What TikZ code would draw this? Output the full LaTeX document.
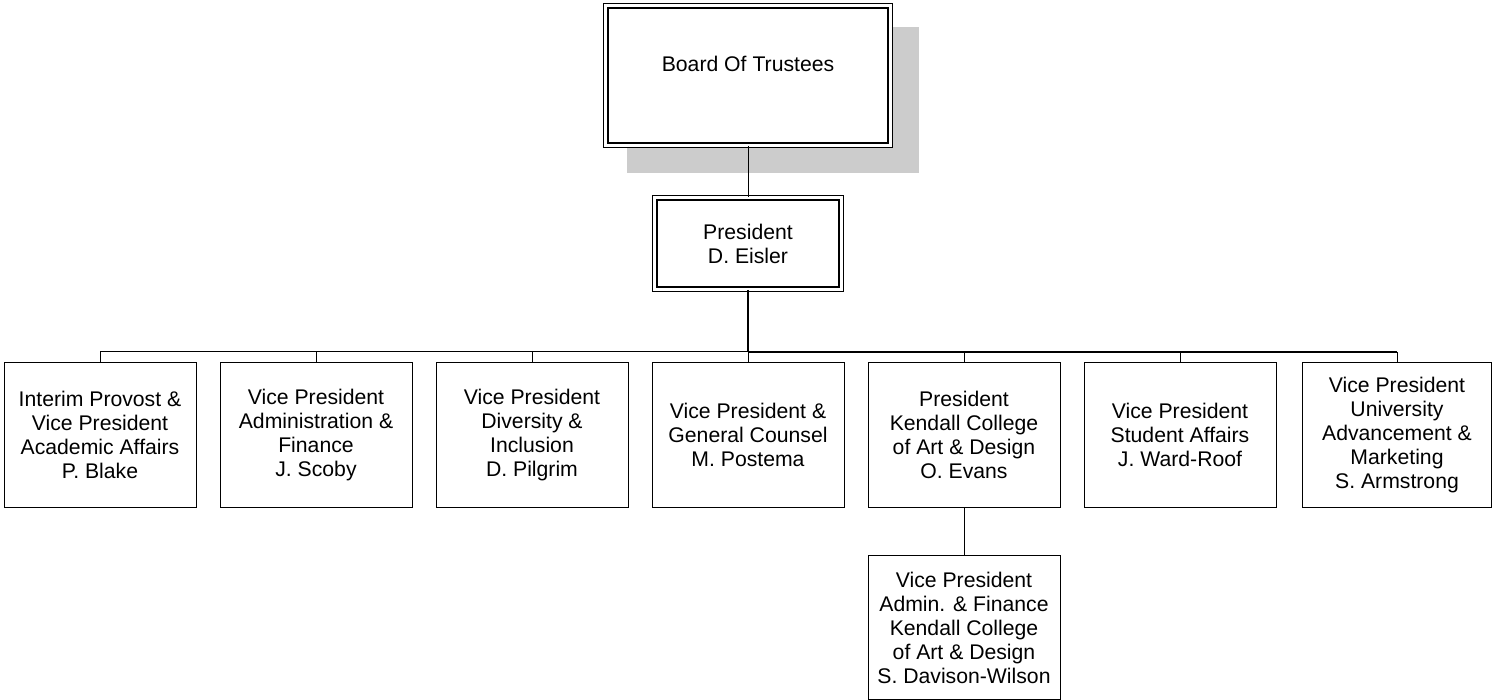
\documentclass[tikz,border=0pt]{standalone}
\usepackage{fontspec}
\setmainfont{Liberation Sans}
\tikzset{
  orgbox/.style={draw, line width=1pt, minimum width=192pt, minimum height=144pt, align=center, inner sep=2pt, font=\fontsize{21.2}{24}\selectfont},
  dblbox/.style={draw, line width=1.3pt, double, double distance=3pt, align=center, inner sep=2pt, font=\fontsize{21.2}{24}\selectfont},
  conn/.style={line width=1pt},
  heavy/.style={line width=2pt},
}
\begin{document}
\begin{tikzpicture}[x=1pt,y=-1pt]
\useasboundingbox (0,0) rectangle (1492,700);
\fill[fill={rgb,255:red,204;green,204;blue,204}] (627,27) rectangle (919,173);
\node[dblbox, fill=white, minimum width=284.4pt, minimum height=139.4pt] (board) at (748,75.5) {Board Of Trustees\\ \mbox{}};
\node[dblbox, minimum width=186.4pt, minimum height=91.4pt] (pres) at (748,243.5) {President\\D. Eisler};
\coordinate (bus) at (748,352);
\node[orgbox] (c1) at (100,435) {Interim Provost \&\\Vice President\\Academic Affairs\\P. Blake};
\node[orgbox] (c2) at (316,435) {Vice President\\Administration \&\\Finance\\J. Scoby};
\node[orgbox] (c3) at (532,435) {Vice President\\Diversity \&\\Inclusion\\D. Pilgrim};
\node[orgbox] (c4) at (748,435) {Vice President \&\\General Counsel\\M. Postema};
\node[orgbox] (c5) at (964,435) {President\\Kendall College\\of Art \& Design\\O. Evans};
\node[orgbox] (c6) at (1180,435) {Vice President\\Student Affairs\\J. Ward-Roof};
\node[orgbox, minimum width=189pt] (c7) at (1397,435) {Vice President\\University\\Advancement \&\\Marketing\\S. Armstrong};
\node[orgbox] (s1) at (964,627.5) {Vice President\\Admin. \& Finance\\Kendall College\\of Art \& Design\\S. Davison-Wilson};
\draw[conn] (board.south) -- (pres.north);
\draw[heavy] (pres.south) -- (bus);
\foreach \c in {c1,c2,c3,c4} {
  \draw[conn] (\c.north) |- (bus);
}
\foreach \c in {c5,c6,c7} {
  \draw[conn] (\c.north) -- (\c.north |- bus);
  \draw[heavy] (\c.north |- bus) -- (bus);
}
\draw[conn] (c5.south) -- (s1.north);
\end{tikzpicture}
\end{document}
